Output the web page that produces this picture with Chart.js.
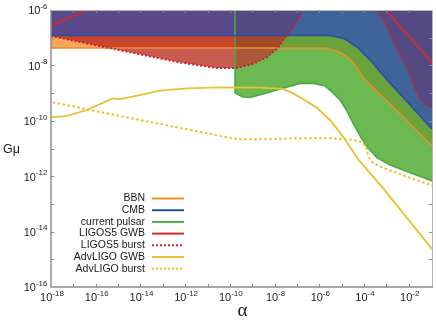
<!DOCTYPE html>
<html><head><meta charset="utf-8">
<script src="https://cdn.jsdelivr.net/npm/chart.js@4.4.1/dist/chart.umd.min.js"></script>
<style>html,body{margin:0;padding:0;background:#fff}</style>
</head><body>
<canvas id="c" width="436" height="320"></canvas>
<script>
// ---- data (log10 values) ----
const bbnLogA   = [-18, -9.77, -5.70, -5.07, -4.53, -3.95, -2.38, -0.95];
const bbnLogG   = [-7.37, -7.37, -7.37, -7.52, -7.84, -8.53, -9.75, -10.91];
const cmbLogA   = [-18, -9.77, -5.52, -4.85, -4.27, -3.64, -2.97, -1.94, -0.95];
const cmbLogG   = [-6.92, -6.92, -6.92, -7.05, -7.37, -7.88, -8.53, -9.43, -10.30];
const pulsarLogA = [-9.77, -9.77, -9.42, -9.10, -8.52, -7.62, -6.86, -6.28, -5.74, -5.38, -5.07, -4.76, -4.49, -4.17, -3.86, -3.41, -2.83, -1.93, -0.95];
const pulsarLogG = [-6.0, -9.00, -9.14, -9.16, -9.03, -8.82, -8.65, -8.64, -8.74, -9.00, -9.25, -9.65, -10.08, -10.55, -10.95, -11.34, -11.60, -11.88, -12.17];
const ligoGwbLeftLogA  = [-18, -16.36];
const ligoGwbLeftLogG  = [-6.57, -6.0];
const ligoGwbRightLogA = [-3.03, -0.95];
const ligoGwbRightLogG = [-6.0, -7.91];
const burstLogA = [-18, -15.23, -12.32, -10.62, -9.77, -8.97, -8.34, -7.89, -7.45, -7.0, -6.73, -6.4, -3.9, -3.47, -3.15, -2.84, -2.52, -2.08, -1.81, -1.63, -1.50, -1.14, -0.95];
const burstLogG = [-6.94, -7.40, -7.88, -8.09, -8.10, -7.95, -7.70, -7.40, -6.92, -6.43, -6.0, -5.5, -5.5, -6.0, -6.36, -6.83, -7.44, -8.06, -8.64, -9.00, -9.25, -9.47, -9.54];
const advGwbLogA = [-18, -17.30, -16.40, -15.24, -14.92, -14.03, -13.13, -11.92, -10.45, -8.65, -7.62, -7.18, -6.73, -6.10, -5.52, -4.94, -4.23, -3.15, -0.95];
const advGwbLogG = [-9.87, -9.83, -9.61, -9.19, -9.22, -9.07, -8.91, -8.83, -8.79, -8.80, -8.85, -9.00, -9.21, -9.54, -9.97, -10.57, -11.42, -12.43, -14.64];
const advBurstLogA = [-17.92, -17.03, -16.27, -15.51, -14.79, -14.03, -13.27, -12.55, -11.79, -11.03, -10.31, -9.68, -8.52, -7.0, -5.52, -4.49, -4.09, -3.91, -3.82, -3.60, -3.15, -2.26, -0.95];
const advBurstLogG = [-9.34, -9.47, -9.61, -9.73, -9.85, -9.97, -10.09, -10.21, -10.33, -10.45, -10.57, -10.66, -10.67, -10.63, -10.63, -10.69, -10.77, -10.95, -11.27, -11.52, -11.70, -11.96, -12.34];

const xTickExps   = [-18,-17,-16,-15,-14,-13,-12,-11,-10,-9,-8,-7,-6,-5,-4,-3,-2,-1];
const xTickLabels = ['-18','','-16','','-14','','-12','','-10','','-8','','-6','','-4','','-2',''];
const yTickExps   = [-16,-15,-14,-13,-12,-11,-10,-9,-8,-7,-6];
const yTickLabels = ['-16','','-14','','-12','','-10','','-8','','-6'];
const tickBase = '10';
const legendLabels = ['BBN','CMB','current pulsar','LIGOS5 GWB','LIGOS5 burst','AdvLIGO GWB','AdvLIGO burst'];
const xTitle = 'α', yTitle = 'Gμ';

// ---- styles ----
const C = {
  purple:'#5a4a8b', purpleG:'#534a84', blue:'#3e6499',
  bbnBurst:'#c9452e', burstOnly:'#c95b50', bbnOnly:'#f8a65c',
  bbnBurstG:'#a4492a', burstG:'#a9593b', olive:'#6aa23b', green:'#6bb950',
  orangeLine:'#f28c28', blueLine:'#2c4fa6', greenLine:'#4aa948',
  red:'#d8262c', redDot:'#cc1f30', yellow:'#e6c22e'
};
const legendStyles = [
  {c:C.orangeLine, d:[]},{c:C.blueLine, d:[]},{c:C.greenLine, d:[]},{c:C.red, d:[]},
  {c:C.redDot, d:[2,2]},{c:C.yellow, d:[]},{c:C.yellow, d:[2,2]}
];
const FONT = '"Liberation Sans", Arial, sans-serif';

const P = (xs, ys) => xs.map((e, i) => ({x: Math.pow(10, e), y: Math.pow(10, ys[i])}));
const part = (xs, ys, lo, hi) => P(xs, ys).filter(p => { const e = Math.log10(p.x); return e >= lo - 1e-6 && e <= hi + 1e-6; });
const xg = pulsarLogA[0];
const xEnd = -0.95;

const ds = [];
function add(d) {
  ds.push(Object.assign({pointRadius: 0, borderWidth: 0, borderColor: 'rgba(0,0,0,0)', fill: false, tension: 0}, d));
  return ds.length - 1;
}
// left of the pulsar bound
const oL = add({data: part(bbnLogA, bbnLogG, -18, xg), fill: 'end', backgroundColor: C.bbnBurst});
add({data: part(burstLogA, burstLogG, -18, xg), fill: {target: oL, above: C.bbnOnly, below: C.burstOnly}});
const cL = add({data: part(cmbLogA, cmbLogG, -18, xg), fill: 'end', backgroundColor: C.purple});
add({data: part(burstLogA, burstLogG, -18, xg), fill: {target: cL, above: C.blue, below: 'rgba(0,0,0,0)'}});
// right of it
add({data: P(pulsarLogA, pulsarLogG), fill: 'end', backgroundColor: C.green});
const oR = add({data: part(bbnLogA, bbnLogG, xg, xEnd), fill: 'end', backgroundColor: C.bbnBurstG});
add({data: part(burstLogA, burstLogG, xg, xEnd), fill: {target: oR, above: C.olive, below: C.burstG}});
const cR = add({data: part(cmbLogA, cmbLogG, xg, xEnd), fill: 'end', backgroundColor: C.purpleG});
add({data: part(burstLogA, burstLogG, xg, xEnd), fill: {target: cR, above: C.blue, below: 'rgba(0,0,0,0)'}});
// lines
add({label: 'current pulsar', data: P(pulsarLogA, pulsarLogG), borderColor: C.greenLine, borderWidth: 1.6});
add({label: 'BBN', data: P(bbnLogA, bbnLogG), borderColor: C.orangeLine, borderWidth: 1.6});
add({label: 'CMB', data: P(cmbLogA, cmbLogG), borderColor: C.blueLine, borderWidth: 1.6});
add({label: 'LIGOS5 GWB', data: P(ligoGwbLeftLogA, ligoGwbLeftLogG), borderColor: C.red, borderWidth: 1.8});
add({label: 'LIGOS5 GWB', data: P(ligoGwbRightLogA, ligoGwbRightLogG), borderColor: C.red, borderWidth: 1.8});
add({label: 'LIGOS5 burst', data: P(burstLogA, burstLogG), borderColor: C.redDot, borderWidth: 2, borderDash: [2, 2]});
add({label: 'AdvLIGO GWB', data: P(advGwbLogA, advGwbLogG), borderColor: C.yellow, borderWidth: 1.8});
add({label: 'AdvLIGO burst', data: P(advBurstLogA, advBurstLogG), borderColor: C.yellow, borderWidth: 2, borderDash: [2.5, 2.5]});
ds.forEach((d, i) => { d.order = ds.length - i; });

function drawPow(ctx, ex, x, yBase, align) {
  ctx.font = '11px ' + FONT; const wb = ctx.measureText(tickBase).width;
  ctx.font = '8px ' + FONT; const we = ctx.measureText(ex).width;
  const x0 = align === 'center' ? x - (wb + we) / 2 : x - (wb + we);
  ctx.textAlign = 'left'; ctx.textBaseline = 'alphabetic';
  ctx.font = '11px ' + FONT; ctx.fillText(tickBase, x0, yBase);
  ctx.font = '8px ' + FONT; ctx.fillText(ex, x0 + wb, yBase - 5.5);
}

const decorPlugin = {
  id: 'decor',
  afterDatasetsDraw(chart) {
    const {ctx, chartArea: a, scales: {x, y}} = chart;
    ctx.save();
    ctx.lineWidth = 1;
    ctx.strokeStyle = '#b8b8b8';
    ctx.beginPath();
    ctx.moveTo(a.left, a.top + 0.5); ctx.lineTo(a.right + 0.5, a.top + 0.5); ctx.lineTo(a.right + 0.5, a.bottom);
    ctx.stroke();
    ctx.strokeStyle = '#8a8a8a';
    ctx.lineWidth = 1.4;
    ctx.beginPath();
    ctx.moveTo(a.left, a.top); ctx.lineTo(a.left, a.bottom); ctx.lineTo(a.right + 1, a.bottom);
    ctx.stroke();
    ctx.lineWidth = 1;
    ctx.beginPath();
    const tl = 3;
    xTickExps.forEach(e => {
      const px = Math.round(x.getPixelForValue(Math.pow(10, e))) + 0.5;
      if (px < a.left + 1 || px > a.right - 1) return;
      ctx.moveTo(px, a.bottom); ctx.lineTo(px, a.bottom - tl);
      ctx.moveTo(px, a.top); ctx.lineTo(px, a.top + tl);
    });
    yTickExps.forEach(e => {
      const py = Math.round(y.getPixelForValue(Math.pow(10, e))) + 0.5;
      if (py < a.top + 1 || py > a.bottom - 1) return;
      ctx.moveTo(a.left, py); ctx.lineTo(a.left + tl, py);
      ctx.moveTo(a.right, py); ctx.lineTo(a.right - tl, py);
    });
    ctx.stroke();
    ctx.restore();
  },
  afterDraw(chart) {
    const {ctx, chartArea: a, scales: {x, y}} = chart;
    ctx.save();
    ctx.fillStyle = '#1f1f1f';
    // tick labels
    xTickExps.forEach((e, i) => {
      if (!xTickLabels[i]) return;
      drawPow(ctx, xTickLabels[i], x.getPixelForValue(Math.pow(10, e)) + 1, a.bottom + 14, 'center');
    });
    yTickExps.forEach((e, i) => {
      if (!yTickLabels[i]) return;
      drawPow(ctx, yTickLabels[i], a.left - 3.5, y.getPixelForValue(Math.pow(10, e)) + 4.3, 'right');
    });
    // legend
    ctx.font = '10.5px ' + FONT;
    ctx.fillStyle = '#1a1a1a';
    ctx.textAlign = 'right';
    ctx.textBaseline = 'middle';
    const tx = a.left + 94, lx0 = a.left + 101, lx1 = a.left + 133;
    legendLabels.forEach((t, i) => {
      const yy = a.top + 188.5 + i * 11.7;
      ctx.fillText(t, tx, yy);
      ctx.strokeStyle = legendStyles[i].c;
      ctx.lineWidth = 2;
      ctx.setLineDash(legendStyles[i].d);
      ctx.beginPath(); ctx.moveTo(lx0, yy); ctx.lineTo(lx1, yy); ctx.stroke();
    });
    ctx.setLineDash([]);
    // axis titles
    ctx.textAlign = 'left';
    ctx.font = '12.5px ' + FONT;
    ctx.fillText(yTitle, 3, 150);
    ctx.textAlign = 'center';
    ctx.font = '19px "Liberation Serif", "Times New Roman", serif';
    ctx.fillText(xTitle, (a.left + a.right) / 2 + 1, 311);
    ctx.restore();
  }
};

new Chart(document.getElementById('c'), {
  type: 'line',
  data: {datasets: ds},
  options: {
    responsive: false, animation: false, events: [],
    layout: {padding: {left: 0, right: 4, top: 10, bottom: 0}},
    plugins: {legend: {display: false}, tooltip: {enabled: false}},
    scales: {
      x: {
        type: 'logarithmic', min: 1e-18, max: Math.pow(10, -0.96),
        afterBuildTicks: s => { s.ticks = xTickExps.map(e => ({value: Math.pow(10, e)})); },
        afterFit: s => { s.height = 33; },
        grid: {display: false, drawTicks: false}, border: {display: false},
        ticks: {display: false}
      },
      y: {
        type: 'logarithmic', min: 1e-16, max: 1e-6,
        afterBuildTicks: s => { s.ticks = yTickExps.map(e => ({value: Math.pow(10, e)})); },
        afterFit: s => { s.width = 51; },
        grid: {display: false, drawTicks: false}, border: {display: false},
        ticks: {display: false}
      }
    }
  },
  plugins: [decorPlugin]
});
</script>
</body></html>
